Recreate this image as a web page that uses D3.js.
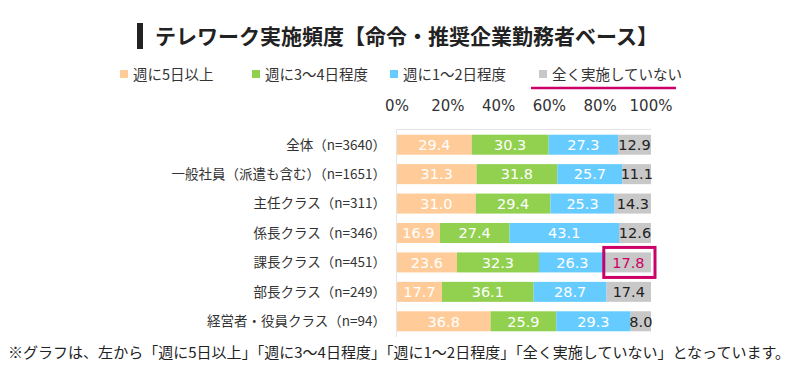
<!DOCTYPE html>
<html>
<head>
<meta charset="utf-8">
<title>テレワーク実施頻度</title>
<script src="https://d3js.org/d3.v7.min.js"></script>
<style>
  body { margin: 0; padding: 0; background: #fff; font-family: "Noto Sans CJK JP", "Noto Sans", sans-serif; }
  svg text { font-family: "Noto Sans CJK JP", "Noto Sans", sans-serif; }
  svg text.num { font-family: "DejaVu Sans", "Noto Sans CJK JP", sans-serif; }
</style>
</head>
<body>
<div id="chart"></div>
<script>
var categories = [
  "全体（n=3640）",
  "一般社員（派遣も含む）（n=1651）",
  "主任クラス（n=311）",
  "係長クラス（n=346）",
  "課長クラス（n=451）",
  "部長クラス（n=249）",
  "経営者・役員クラス（n=94）"
];
var seriesNames = ["週に5日以上", "週に3～4日程度", "週に1～2日程度", "全く実施していない"];
var fiveDays  = [29.4, 31.3, 31.0, 16.9, 23.6, 17.7, 36.8];
var threeFour = [30.3, 31.8, 29.4, 27.4, 32.3, 36.1, 25.9];
var oneTwo    = [27.3, 25.7, 25.3, 43.1, 26.3, 28.7, 29.3];
var none      = [12.9, 11.1, 14.3, 12.6, 17.8, 17.4, 8.0];
var tickValues = [0, 20, 40, 60, 80, 100];
var highlightRow = "課長クラス（n=451）";

var colors = ["#FFCC99", "#92D050", "#66CCFF", "#C8C8C8"];
var pink = "#CC0066";

var W = 800, H = 382;
var svg = d3.select("#chart").append("svg")
  .attr("width", W).attr("height", H);

// title
svg.append("rect").attr("x", 137).attr("y", 23).attr("width", 6).attr("height", 26).attr("fill", "#222");
svg.append("text")
  .attr("x", 155).attr("y", 44)
  .attr("font-size", 21).attr("font-weight", "bold").attr("fill", "#222")
  .text("テレワーク実施頻度【命令・推奨企業勤務者ベース】");

// legend
var legendX = [120, 252, 390, 539];
seriesNames.forEach(function (name, i) {
  svg.append("rect").attr("x", legendX[i]).attr("y", 70).attr("width", 8).attr("height", 8).attr("fill", colors[i]);
  svg.append("text")
    .attr("x", legendX[i] + 13).attr("y", 80)
    .attr("font-size", 14.5).attr("fill", "#333")
    .text(name);
});
svg.append("line").attr("x1", 531).attr("x2", 676).attr("y1", 88).attr("y2", 88)
  .attr("stroke", pink).attr("stroke-width", 2.5);

// scales
var x = d3.scaleLinear().domain([0, 100]).range([397, 651]);
var y = d3.scaleBand().domain(categories).range([130, 336]).paddingInner(0.32).paddingOuter(0.16);

// tick labels
svg.selectAll(".tick-label").data(tickValues).enter().append("text")
  .attr("class", "tick-label num")
  .attr("x", function (d) { return x(d); })
  .attr("y", 111)
  .attr("text-anchor", "middle")
  .attr("font-size", 15).attr("fill", "#333")
  .text(function (d) { return d + "%"; });

// axis lines
svg.append("line").attr("x1", x(0)).attr("x2", x(100)).attr("y1", 129.5).attr("y2", 129.5)
  .attr("stroke", "#e4e4e4").attr("stroke-width", 1);
svg.append("line").attr("x1", x(0) - 0.5).attr("x2", x(0) - 0.5).attr("y1", 129).attr("y2", 337)
  .attr("stroke", "#e4e4e4").attr("stroke-width", 1);

// stacked data
var rows = categories.map(function (c, i) {
  return { cat: c, vals: [fiveDays[i], threeFour[i], oneTwo[i], none[i]] };
});

var g = svg.append("g");
rows.forEach(function (r) {
  var acc = 0;
  r.vals.forEach(function (v, k) {
    var x0 = acc, x1 = (k === 3) ? 100 : acc + v;
    g.append("rect")
      .attr("x", x(x0)).attr("y", y(r.cat))
      .attr("width", x(x1) - x(x0)).attr("height", y.bandwidth())
      .attr("fill", colors[k]);
    var fill = k < 3 ? "#fff" : (r.cat === highlightRow ? pink : "#222");
    g.append("text")
      .attr("class", "num")
      .attr("x", (x(x0) + x(x1)) / 2)
      .attr("y", y(r.cat) + y.bandwidth() / 2)
      .attr("dy", "0.36em")
      .attr("text-anchor", "middle")
      .attr("font-size", 14.5).attr("fill", fill)
      .text(v.toFixed(1));
    acc += v;
  });
  svg.append("text")
    .attr("x", 386).attr("y", y(r.cat) + y.bandwidth() / 2)
    .attr("dy", "0.36em")
    .attr("text-anchor", "end")
    .attr("font-size", 13.5).attr("fill", "#333")
    .text(r.cat);
});

// highlight box
var hi = categories.indexOf(highlightRow);
var hx0 = x(100 - none[hi]);
svg.append("rect")
  .attr("x", hx0 - 2).attr("y", y(highlightRow) - 5)
  .attr("width", x(100) - hx0 + 6).attr("height", y.bandwidth() + 10)
  .attr("fill", "none").attr("stroke", pink).attr("stroke-width", 3);

// footnote
svg.append("text")
  .attr("x", 8).attr("y", 358)
  .attr("font-size", 14.5).attr("fill", "#222")
  .attr("textLength", 782).attr("lengthAdjust", "spacingAndGlyphs")
  .text("※グラフは、左から「週に5日以上」「週に3～4日程度」「週に1～2日程度」「全く実施していない」となっています。");
</script>
</body>
</html>
